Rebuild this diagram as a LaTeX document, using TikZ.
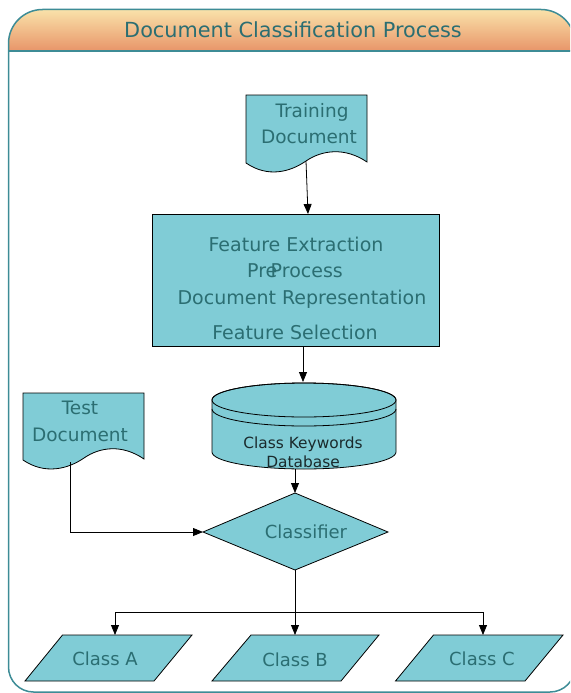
\documentclass[tikz,border=0pt]{standalone}
\usepackage{fontspec}
\setmainfont{DejaVu Sans}
\usetikzlibrary{arrows.meta}
\definecolor{boxfill}{HTML}{80CCD6}
\definecolor{txt}{HTML}{2B6E72}
\definecolor{dbtxt}{HTML}{1A2A2C}
\definecolor{framec}{HTML}{3D8C96}
\definecolor{hdtop}{HTML}{F9E2AA}
\definecolor{hdbot}{HTML}{E89468}
\begin{document}
\begin{tikzpicture}[x=1pt,y=-1pt,
  shp/.style={fill=boxfill, draw=black, line width=0.8pt},
  lbl/.style={text=txt, inner sep=0pt, anchor=base},
  fs/.style={font=\fontsize{#1}{#1}\selectfont},
  conn/.style={draw=black, line width=0.8pt, -{Triangle[length=10pt,width=8pt]}},
  plain/.style={draw=black, line width=0.8pt}]
\useasboundingbox (0,0) rectangle (570,693);
\begin{scope}
\clip (0,0) rectangle (570,693);
% header
\shade[top color=hdtop, bottom color=hdbot]
  (8.5,51.5) -- (8.5,43.5) arc[start angle=180,end angle=270,radius=34]
  -- (541,9.5) arc[start angle=270,end angle=360,radius=34] -- (575,51.5) -- cycle;
\draw[framec, line width=1.5pt]
  (8.5,51.5) -- (8.5,43.5) arc[start angle=180,end angle=270,radius=34]
  -- (541,9.5) arc[start angle=270,end angle=360,radius=34]
  -- (575,667) arc[start angle=0,end angle=90,radius=25]
  -- (33.5,692) arc[start angle=90,end angle=180,radius=25] -- cycle;
\draw[framec, line width=2pt] (8.5,51.5) -- (575,51.5);
\end{scope}
\node[lbl, fs=20.8] (title) at (293,37.2) {Document Classification Process};

% training document
\path[shp] (246,95) -- (367,95) -- (367,162)
  .. controls (345,147) and (322,150) .. (306,161)
  .. controls (290,172) and (268,178) .. (246,163) -- cycle;
\node[lbl, fs=18.5] (train1) at (312,117.3) {Training};
\node[lbl, fs=18.5] (train2) at (309,143.3) {Document};
\coordinate (trainOut) at (306,161);

% feature box
\node[shp, minimum width=287pt, minimum height=132pt, inner sep=0pt] (feat) at (295.5,280) {};
\node[lbl, fs=19] (f1) at (296,251) {Feature Extraction};
\node[lbl, fs=19] (f2) at (295,277.5) {Pre\kern-0.35em Process};
\node[lbl, fs=19] (f3) at (302,304) {Document Representation};
\node[lbl, fs=19] (f4) at (295,339) {Feature Selection};
\coordinate (featIn) at (308,214);
\coordinate (featOut) at (303,346);

% database cylinder
\path[shp] (212,400) -- (212,452) arc[start angle=180,end angle=0,x radius=92,y radius=17]
  -- (396,400) arc[start angle=360,end angle=180,x radius=92,y radius=17] -- cycle;
\draw[plain] (304,400) ellipse[x radius=92, y radius=17];
\draw[plain] (212,409) arc[start angle=180,end angle=0,x radius=92,y radius=17];
\node[lbl, fs=15.4, text=dbtxt] (db1) at (303,448.6) {Class Keywords};
\node[lbl, fs=15.4, text=dbtxt] (db2) at (303,467.6) {Database};
\coordinate (dbIn) at (303,382);
\coordinate (dbOut) at (295,469);

% test document
\path[shp] (23,393) -- (144,393) -- (144,459)
  .. controls (122,444) and (100,447) .. (84,458)
  .. controls (68,469) and (45,475) .. (23,460) -- cycle;
\node[lbl, fs=18.5] (test1) at (80,414.8) {Test};
\node[lbl, fs=18.5] (test2) at (80,441.8) {Document};
\coordinate (testOut) at (70,462);

% classifier
\path[shp] (295,493) coordinate (clsN) -- (388,532) coordinate (clsE)
  -- (295,570) coordinate (clsS) -- (203,532) coordinate (clsW) -- cycle;
\node[lbl, fs=18] (cls) at (306,538.6) {Classifier};

% classes
\path[shp] (62.5,635) -- (192,635) -- (154,681) -- (25,681) -- cycle;
\path[shp] (251,635) -- (379,635) -- (341,681) -- (212,681) -- cycle;
\path[shp] (433.5,635) -- (563,635) -- (525,681) -- (395.5,681) -- cycle;
\node[lbl, fs=18] (ca) at (105,665.6) {Class A};
\node[lbl, fs=18] (cb) at (295,666.6) {Class B};
\node[lbl, fs=18] (cc) at (482,665.6) {Class C};
\coordinate (caIn) at (115,635);
\coordinate (cbIn) at (295,635);
\coordinate (ccIn) at (483,635);
\coordinate (split) at (295,612);

% connectors
\draw[conn] (trainOut) -- (featIn);
\draw[conn] (featOut) -- (dbIn);
\draw[conn] (dbOut) -- (clsN);
\draw[conn] (testOut) |- (clsW);
\draw[conn] (clsS) -- (cbIn);
\draw[conn] (split) -| (caIn);
\draw[conn] (split) -| (ccIn);
\end{tikzpicture}
\end{document}
